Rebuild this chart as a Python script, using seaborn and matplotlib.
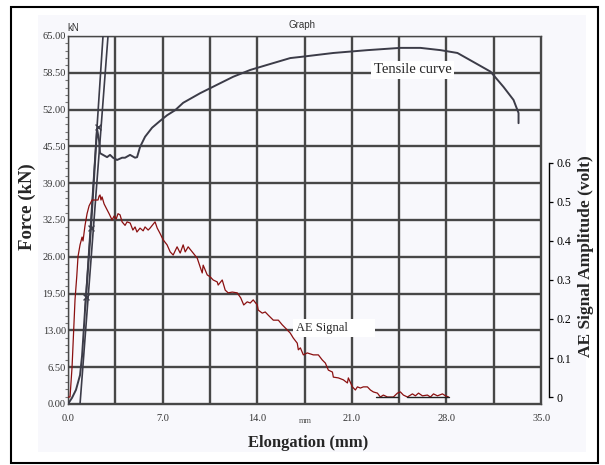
"""
Tensile test record with acoustic emission (AE) signal
"""
import matplotlib
matplotlib.use('Agg')
from matplotlib import pyplot as plt
from matplotlib.patches import Rectangle
from matplotlib.ticker import AutoMinorLocator
import seaborn as sns


"""
# Data read off the scanned chart
"""
# tensile curve: elongation (mm) vs force (kN)
tensile_mm = [0.0, 0.3, 0.59, 0.89, 1.04, 1.26, 1.7, 2.15, 2.3, 2.37, 2.59,
              2.89, 3.11, 3.33, 3.63, 4.0, 4.22, 4.59, 4.96, 5.11, 5.33,
              5.7, 6.22, 6.81, 7.33, 7.93, 8.52, 9.78, 11.04, 12.22, 13.48,
              14.74, 16.44, 17.19, 19.63, 22.15, 24.59, 26.07, 27.56, 28.81,
              30.0, 31.26, 32.22, 32.96, 33.33, 33.33]
tensile_kn = [0.0, 1.1, 2.5, 5.1, 8.5, 16.6, 31.1, 48.6, 46.5, 44.3, 44.0,
              43.6, 44.0, 43.5, 43.1, 43.5, 43.5, 44.0, 43.5, 43.6, 45.4,
              47.2, 48.8, 50.0, 51.0, 51.9, 53.2, 54.9, 56.4, 57.8, 59.0,
              59.9, 61.1, 61.3, 62.0, 62.5, 62.9, 62.9, 62.5, 62.0,
              60.4, 58.7, 56.0, 53.7, 51.4, 49.6]

# elastic (modulus) line and its offset line
modulus_mm = [1.26, 2.59]
modulus_kn = [16.6, 65.0]
offset_mm = [0.89, 2.96]
offset_kn = [0.0, 65.0]

# small cross markers on the loading line
mark_mm = [2.22, 1.70, 1.33]
mark_kn = [48.9, 31.1, 18.9]

# AE signal: elongation (mm) vs amplitude (volt)
ae_mm = [0.0, 0.15, 0.3, 0.52, 0.65, 0.74, 0.89, 1.04, 1.11, 1.26, 1.41,
         1.56, 1.78, 2.0, 2.22, 2.30, 2.37, 2.44, 2.52, 2.67, 2.89, 3.04,
         3.26, 3.41, 3.56, 3.70, 3.85, 4.0, 4.22, 4.37, 4.6, 4.8, 4.96,
         5.1, 5.33, 5.56, 5.7, 5.93, 6.07, 6.3, 6.44, 6.6, 6.8, 7.04, 7.33,
         7.56, 7.78, 8.07, 8.30, 8.52, 8.67, 8.89, 9.19, 9.56, 9.78, 9.93,
         10.0, 10.30, 10.52, 10.74, 11.04, 11.11, 11.41, 11.63, 11.85,
         12.15, 12.52, 12.78, 13.0, 13.26, 13.48, 13.70, 14.0, 14.07, 14.37,
         14.59, 14.81, 15.19, 15.56, 15.85, 16.22, 16.44, 16.67, 16.96,
         17.04, 17.19, 17.41, 17.70, 18.15, 18.52, 18.81, 19.04, 19.26,
         19.56, 19.63, 20.0, 20.37, 20.67, 20.74, 21.04, 21.26, 21.41,
         21.63, 21.85, 22.15, 22.37, 22.59, 22.89, 23.11, 23.33, 23.63,
         24.07, 24.37, 24.59, 24.81, 25.11, 25.48, 25.70, 25.93, 26.22,
         26.59, 26.81, 27.04, 27.33, 27.70, 27.93, 28.15]
ae_volt = [0.0, 0.0, 0.077, 0.25, 0.31, 0.36, 0.39, 0.41, 0.40, 0.44, 0.47,
           0.49, 0.505, 0.505, 0.505, 0.515, 0.518, 0.505, 0.513, 0.495,
           0.48, 0.47, 0.454, 0.464, 0.456, 0.47, 0.467, 0.449, 0.44, 0.449,
           0.446, 0.428, 0.436, 0.423, 0.433, 0.426, 0.436, 0.428, 0.433,
           0.443, 0.449, 0.433, 0.42, 0.403, 0.39, 0.372, 0.364, 0.385,
           0.369, 0.39, 0.372, 0.385, 0.372, 0.356, 0.333, 0.318, 0.338,
           0.313, 0.308, 0.300, 0.295, 0.287, 0.300, 0.274, 0.267, 0.269,
           0.267, 0.254, 0.236, 0.244, 0.241, 0.249, 0.236, 0.223, 0.215,
           0.218, 0.210, 0.197, 0.197, 0.185, 0.172, 0.164, 0.151, 0.138,
           0.121, 0.126, 0.108, 0.113, 0.108, 0.108, 0.095, 0.087, 0.069,
           0.064, 0.051, 0.049, 0.044, 0.036, 0.049, 0.026, 0.018, 0.026,
           0.023, 0.026, 0.026, 0.018, 0.013, 0.010, 0.0, 0.005, 0.0,
           0.0, 0.010, 0.013, 0.005, 0.0, 0.008, 0.003, 0.010, 0.003,
           0.005, 0.0, 0.008, 0.003, 0.008, 0.003, 0.0]

# short black baseline pieces under the AE trace
base1_mm = [22.8, 24.4]
base2_mm = [25.1, 28.15]
base_volt = [0.0, 0.0]

x_ticks = [0.0, 3.5, 7.0, 10.5, 14.0, 17.5, 21.0, 24.5, 28.0, 31.5, 35.0]
x_labels = ['0.0', '', '7.0', '', '14.0', '', '21.0', '', '28.0', '', '35.0']
y_ticks = [0.0, 6.5, 13.0, 19.5, 26.0, 32.5, 39.0, 45.5, 52.0, 58.5, 65.0]
y_labels = ['0.00', '6.50', '13.00', '19.50', '26.00', '32.50', '39.00',
            '45.50', '52.00', '58.50', '65.00']
volt_ticks = [0.0, 0.1, 0.2, 0.3, 0.4, 0.5, 0.6]
volt_labels = ['0', '0.1', '0.2', '0.3', '0.4', '0.5', '0.6']


"""
# Plot
"""
sns.set_style('white')
plt.rcParams['font.family'] = ['Liberation Serif', 'DejaVu Serif']

GRID = '#474747'
CURVE = '#3c3c48'
RED = '#8b1010'

fig = plt.figure(figsize=(6.05, 4.65), dpi=100)
fig.patches.append(Rectangle((0.063, 0.028), 0.905, 0.94, transform=fig.transFigure,
                             facecolor='#f8f8fc', edgecolor='none', zorder=-5))
fig.patches.append(Rectangle((0.018, 0.004), 0.970, 0.981, transform=fig.transFigure,
                             facecolor='none', edgecolor='black', lw=1.5, zorder=5))

ax = fig.add_axes([0.1124, 0.1312, 0.782, 0.7914])
ax.set_facecolor('none')

sns.lineplot(x=tensile_mm, y=tensile_kn, ax=ax, sort=False, estimator=None,
             color=CURVE, lw=1.4, zorder=4)
sns.lineplot(x=modulus_mm, y=modulus_kn, ax=ax, sort=False, estimator=None,
             color=CURVE, lw=1.2, zorder=4)
sns.lineplot(x=offset_mm, y=offset_kn, ax=ax, sort=False, estimator=None,
             color=CURVE, lw=1.2, zorder=4)
sns.scatterplot(x=mark_mm, y=mark_kn, ax=ax, marker='x', s=18, color=CURVE,
                linewidth=1.0, zorder=5)

ax.set_xlim(0, 35)
ax.set_ylim(0, 65)
ax.set_xticks(x_ticks)
ax.set_xticklabels(x_labels)
ax.set_yticks(y_ticks)
ax.set_yticklabels(y_labels)
ax.xaxis.set_minor_locator(AutoMinorLocator(5))
ax.yaxis.set_minor_locator(AutoMinorLocator(5))
ax.tick_params(axis='both', which='major', length=0, labelsize=7.5,
               labelcolor='#333333')
ax.tick_params(axis='x', which='major', pad=7)
ax.tick_params(axis='y', which='major', pad=1.5)
ax.tick_params(axis='both', which='minor', length=2, width=0.8, color='#777777',
               direction='out')
ax.grid(True, which='major', color=GRID, lw=1.7)
for side in ['left', 'bottom', 'top', 'right']:
   ax.spines[side].set_color(GRID)
   ax.spines[side].set_linewidth(1.0)
ax.set_xlabel('')
ax.set_ylabel('')

ax.text(25.5, 59.0, 'Tensile curve', fontsize=10.5, ha='center', va='center',
        zorder=6, bbox=dict(facecolor='white', edgecolor='none', pad=2))
ax.text(16.85, 13.4, 'AE Signal        ', fontsize=9, ha='left', va='center',
        zorder=6, bbox=dict(facecolor='white', edgecolor='none', pad=2))

# AE amplitude on a second axis
ax2 = ax.twinx()
sns.lineplot(x=ae_mm, y=ae_volt, ax=ax2, sort=False, estimator=None,
             color=RED, lw=0.9)
sns.lineplot(x=base1_mm, y=base_volt, ax=ax2, sort=False, estimator=None,
             color='#222222', lw=1.0)
sns.lineplot(x=base2_mm, y=base_volt, ax=ax2, sort=False, estimator=None,
             color='#222222', lw=1.0)
ax2.set_ylim(-0.0179, 0.9255)
ax2.set_xlim(0, 35)
ax2.set_yticks(volt_ticks)
ax2.set_yticklabels(volt_labels)
ax2.set_ylabel('')
for side in ['left', 'bottom', 'top']:
   ax2.spines[side].set_visible(False)
ax2.spines['right'].set_position(('axes', 1.017))
ax2.spines['right'].set_bounds(0, 0.6)
ax2.spines['right'].set_color('black')
ax2.spines['right'].set_linewidth(1.0)
ax2.tick_params(axis='y', which='major', length=3, width=0.9, labelsize=8.5,
                pad=2, colors='black')

# axis titles and small annotations
fig.text(27 / 605, 1 - 207 / 465, 'Force (kN)', rotation=90, fontsize=13.5,
         fontweight='bold', ha='center', va='center')
fig.text(586 / 605, 1 - 256 / 465, 'AE Signal Amplitude (volt)', rotation=90,
         fontsize=12.5, fontweight='bold', ha='center', va='center')
fig.text(308 / 605, 1 - 443 / 465, 'Elongation (mm)', fontsize=12,
         fontweight='bold', ha='center', va='center')
fig.text(73 / 605, 1 - 28 / 465, 'kN', fontsize=7, ha='center', va='center',
         family=['Liberation Sans', 'DejaVu Sans'], color='#333333')
fig.text(302 / 605, 1 - 25 / 465, 'Graph', fontsize=7, ha='center', va='center',
         family=['Liberation Sans', 'DejaVu Sans'], color='#333333')
fig.text(305 / 605, 1 - 421 / 465, 'mm', fontsize=6, ha='center', va='center',
         color='#555555')

fig.savefig('out.png', dpi=100)
